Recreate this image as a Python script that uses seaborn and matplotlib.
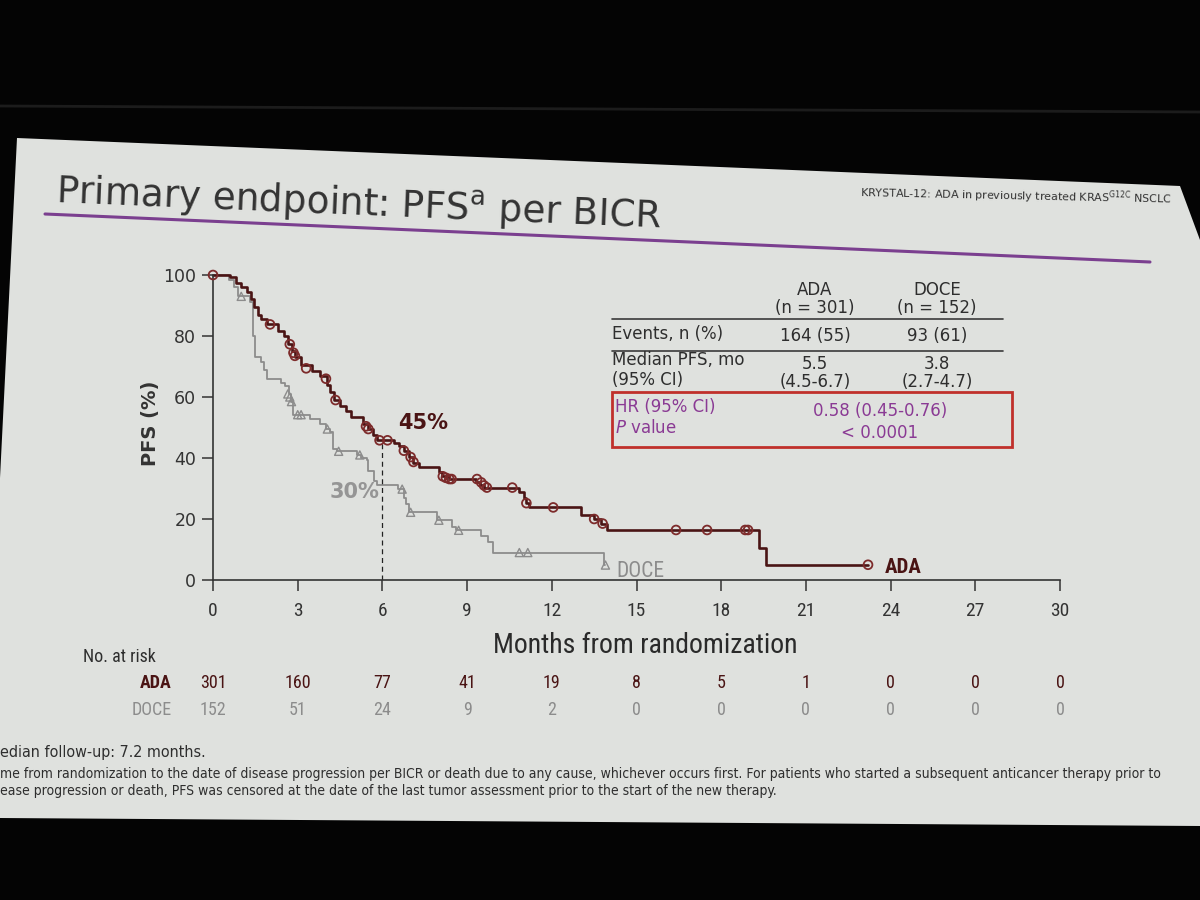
import numpy as np
import pandas as pd
import seaborn as sns
import matplotlib
matplotlib.use("Agg")
import matplotlib.pyplot as plt
import matplotlib.transforms as mtransforms
from matplotlib.patches import Polygon, Rectangle
from matplotlib.lines import Line2D

# ---- values (months, PFS %) ----
ada_t = [0, 0.6, 0.8, 1.0, 1.2, 1.35, 1.45, 1.6, 1.7, 1.9, 2.3, 2.5, 2.65, 2.8, 2.9,
         3.1, 3.5, 3.8, 4.05, 4.15, 4.3, 4.5, 4.7, 4.9, 5.3, 5.5, 5.65, 5.8, 6.4, 6.6,
         6.75, 6.95, 7.1, 7.3, 8.0, 8.1, 8.35, 9.3, 9.45, 9.6, 10.85, 11.0, 11.1, 11.2,
         13.05, 13.5, 13.75, 13.95, 19.35, 19.6, 23.2]
ada_s = [100, 99.5, 97.5, 96, 94.5, 92, 89.5, 87, 85.5, 84, 81.5, 80, 77.5, 75, 73,
         70.5, 68.5, 67, 64, 61.5, 59, 57, 55.5, 53.5, 51, 49.5, 47.5, 45.8, 45, 44,
         42.4, 40.3, 38.5, 37.2, 35.5, 34, 33.1, 32, 31, 30.3, 29, 27, 25.2, 23.8,
         21.2, 20, 18.5, 16.4, 10.5, 5, 5]
ada_cens_t = [0, 2.02, 2.72, 2.85, 2.9, 3.3, 4.0, 4.34, 5.42, 5.5, 5.9, 6.18, 6.76, 7.0,
              7.1, 8.14, 8.25, 8.37, 8.45, 9.35, 9.5, 9.6, 9.7, 10.6, 11.1, 12.05, 13.5,
              13.8, 16.4, 17.5, 18.85, 18.95, 23.2]
ada_cens_s = [100, 83.8, 77.3, 74.5, 73.5, 69.4, 66, 59, 50.4, 49.5, 45.8, 45.8, 42.4, 40.3,
              38.7, 34, 33.5, 33.1, 33.1, 33.1, 32, 31, 30.3, 30.3, 25.2, 23.8, 20,
              18.5, 16.4, 16.4, 16.4, 16.4, 5]

doce_t = [0, 0.55, 0.75, 0.9, 1.3, 1.42, 1.5, 1.7, 1.8, 1.9, 2.4, 2.55, 2.7, 2.78, 2.85,
          3.45, 3.8, 4.0, 4.15, 4.25, 4.4, 5.1, 5.25, 5.45, 5.5, 5.7, 5.8, 6.55, 6.75,
          6.85, 6.95, 7.95, 8.45, 8.6, 9.5, 9.75, 9.9, 13.85, 13.9]
doce_s = [100, 98.5, 96, 93, 91, 80, 73, 71.5, 69, 66, 64.6, 63.5, 61, 58.5, 54.2,
          52.7, 51.2, 49.5, 48.5, 43, 42.2, 41, 39.9, 39.4, 35.6, 32.3, 31.1, 29.8, 27,
          24.9, 22.2, 19.6, 17.5, 16.3, 14.5, 12.3, 9.0, 4.9, 4.9]
doce_cens_t = [1.0, 2.65, 2.72, 2.78, 3.0, 3.12, 4.05, 4.45, 5.2, 6.7, 7.0, 8.0, 8.7,
               10.85, 11.15, 13.9]
doce_cens_s = [93, 61, 60, 58.5, 54.2, 54.2, 49.5, 42.2, 41, 29.8, 22.2, 19.6, 16.3,
               9.0, 9.0, 4.9]

risk_months = [0, 3, 6, 9, 12, 15, 18, 21, 24, 27, 30]
ada_risk = [301, 160, 77, 41, 19, 8, 5, 1, 0, 0, 0]
doce_risk = [152, 51, 24, 9, 2, 0, 0, 0, 0, 0, 0]

landmark_month = 6
ada_landmark = 45
doce_landmark = 30

table_cols = ["ADA\n(n = 301)", "DOCE\n(n = 152)"]
events = ["164 (55)", "93 (61)"]
median_pfs = ["5.5\n(4.5-6.7)", "3.8\n(2.7-4.7)"]
hr_text = "0.58 (0.45-0.76)"
p_text = "< 0.0001"

ADA_C = "#4a1414"
ADA_MK = "#7d2b2b"
DOCE_C = "#8c8c8c"
DARK = "#2e2e2e"
PURPLE = "#8a3a94"

sns.set_style("ticks")
plt.rcParams["font.family"] = ["DejaVu Sans"]
COND = "Roboto Condensed"

fig = plt.figure(figsize=(12, 9), dpi=100, facecolor="#040404")

# pixel overlay for the slide and free text
ov = fig.add_axes([0, 0, 1, 1], zorder=0)
ov.set_xlim(0, 1200)
ov.set_ylim(900, 0)
ov.axis("off")
ov.add_line(Line2D([0, 1200], [106, 112], color="#1c1c1c", lw=2))
ov.add_patch(Polygon([(17, 138), (1180, 186), (1200, 240), (1200, 826), (0, 818), (0, 478)],
                     closed=True, fc="#dfe1de", ec="none"))

ov.text(55, 203, r"Primary endpoint: PFS$^{\mathregular{a}}$ per BICR", fontsize=26.8,
        color="#333333", rotation=-2.4, rotation_mode="anchor", ha="left", va="baseline")
ov.add_line(Line2D([45, 1150], [214, 262], color="#7b3f8f", lw=2.2))
ov.text(860, 197, r"KRYSTAL-12: ADA in previously treated KRAS$^{\mathregular{G12C}}$ NSCLC",
        fontsize=7.9, color="#333333", rotation=-1.2, rotation_mode="anchor",
        ha="left", va="baseline")

# summary table
tx = [815, 937]
for x, lab in zip(tx, table_cols):
    ov.text(x, 299, lab, ha="center", va="center", fontsize=12, color=DARK, linespacing=1.05)
for y in [319, 351]:
    ov.add_line(Line2D([612, 1003], [y, y], color="#3a3a3a", lw=1.2))
ov.text(612, 334, "Events, n (%)", ha="left", va="center", fontsize=12, color=DARK)
for x, v in zip(tx, events):
    ov.text(x, 336, v, ha="center", va="center", fontsize=12, color=DARK)
ov.text(612, 370, "Median PFS, mo\n(95% CI)", ha="left", va="center", fontsize=12,
        color=DARK, linespacing=1.1)
for x, v in zip(tx, median_pfs):
    ov.text(x, 373, v, ha="center", va="center", fontsize=12, color=DARK, linespacing=1.05)
ov.add_patch(Rectangle((612, 392), 400, 55, fc="none", ec="#c0302b", lw=2))
ov.text(615, 407, "HR (95% CI)", ha="left", va="center", fontsize=12, color=PURPLE)
ov.text(615, 428, r"$\it{P}$ value", ha="left", va="center", fontsize=12, color=PURPLE)
ov.text(880, 411, hr_text, ha="center", va="center", fontsize=12, color=PURPLE)
ov.text(880, 433, p_text, ha="center", va="center", fontsize=12, color=PURPLE)

# footnotes (cropped by the photo frame)
ov.text(0, 753, "edian follow-up: 7.2 months.", ha="left", va="center", fontsize=11.5,
        color=DARK, fontstretch="condensed")
ov.text(0, 774, "me from randomization to the date of disease progression per BICR or death due to "
        "any cause, whichever occurs first. For patients who started a subsequent anticancer "
        "therapy prior to", ha="left", va="center", fontsize=10, color=DARK,
        fontstretch="condensed")
ov.text(0, 791, "ease progression or death, PFS was censored at the date of the last tumor "
        "assessment prior to the start of the new therapy.", ha="left", va="center",
        fontsize=10, color=DARK, fontstretch="condensed")

# ---- KM plot ----
ax = fig.add_axes([213 / 1200, 1 - 580 / 900, 847 / 1200, 305 / 900], zorder=2)
ax.patch.set_visible(False)

sns.lineplot(x=doce_t, y=doce_s, drawstyle="steps-post", estimator=None, sort=False,
             color=DOCE_C, lw=1.3, ax=ax, clip_on=False)
sns.lineplot(x=ada_t, y=ada_s, drawstyle="steps-post", estimator=None, sort=False,
             color=ADA_C, lw=1.9, ax=ax, clip_on=False)
sns.scatterplot(x=doce_cens_t, y=doce_cens_s, marker="^", s=34, fc="none", ec=DOCE_C,
                linewidth=1.0, ax=ax, clip_on=False, zorder=3)
sns.scatterplot(x=ada_cens_t, y=ada_cens_s, marker="o", s=40, fc="none", ec=ADA_MK,
                linewidth=1.3, ax=ax, clip_on=False, zorder=4)

ax.vlines(landmark_month, 0, ada_s[ada_t.index(5.8)], colors="#222222", lw=0.9,
          linestyles=(0, (4, 3)))
ax.text(landmark_month + 0.55, 51.5, f"{ada_landmark}%", ha="left", va="center",
        fontsize=15, fontweight="bold", color=ADA_C)
ax.text(landmark_month - 0.1, 29, f"{doce_landmark}%", ha="right", va="center",
        fontsize=15, fontweight="bold", color="#959595")
ax.text(doce_t[-1] + 0.4, 2.8, "DOCE", ha="left", va="center", fontsize=15.5,
        color=DOCE_C, family=COND)
ax.text(ada_t[-1] + 0.6, 4.0, "ADA", ha="left", va="center", fontsize=15,
        color=ADA_C, family=COND, fontweight="bold")

ax.set_xlim(0, 30)
ax.set_ylim(0, 100)
ax.set_xticks(risk_months)
ax.set_yticks(np.arange(0, 101, 20))
sns.despine(ax=ax)
for sp in ["left", "bottom"]:
    ax.spines[sp].set_color("#333333")
    ax.spines[sp].set_linewidth(1.2)
ax.tick_params(axis="both", direction="out", length=8, width=1.1, color="#333333")
ax.tick_params(axis="y", labelsize=12.5, labelcolor="#333333", pad=4)
ax.tick_params(axis="x", labelsize=14, labelcolor="#333333", pad=8)
for lab in ax.get_xticklabels():
    lab.set_family(COND)
ax.set_ylabel("PFS (%)", fontsize=14, fontweight="bold", color="#333333")
ax.yaxis.set_label_coords(-0.063, 0.515)
ax.set_xlabel("Months from randomization", fontsize=20, color="#2a2a2a", family=COND)
ax.xaxis.set_label_coords(0.51, -0.17)

# number at risk, placed on the plot's month scale
risk_tr = mtransforms.blended_transform_factory(ax.transData, fig.transFigure)
fig.text(83 / 1200, 1 - 657 / 900, "No. at risk", ha="left", va="center", fontsize=13,
         color=DARK, family=COND)
fig.text(172 / 1200, 1 - 683 / 900, "ADA", ha="right", va="center", fontsize=13,
         color=ADA_C, family=COND, fontweight="bold")
fig.text(172 / 1200, 1 - 710 / 900, "DOCE", ha="right", va="center", fontsize=13,
         color=DOCE_C, family=COND)
for m, a, d in zip(risk_months, ada_risk, doce_risk):
    ax.text(m, 1 - 683 / 900, str(a), transform=risk_tr, ha="center", va="center",
            fontsize=13, color=ADA_C, family=COND)
    ax.text(m, 1 - 710 / 900, str(d), transform=risk_tr, ha="center", va="center",
            fontsize=13, color=DOCE_C, family=COND)

fig.savefig("out.png", dpi=100, facecolor=fig.get_facecolor())
